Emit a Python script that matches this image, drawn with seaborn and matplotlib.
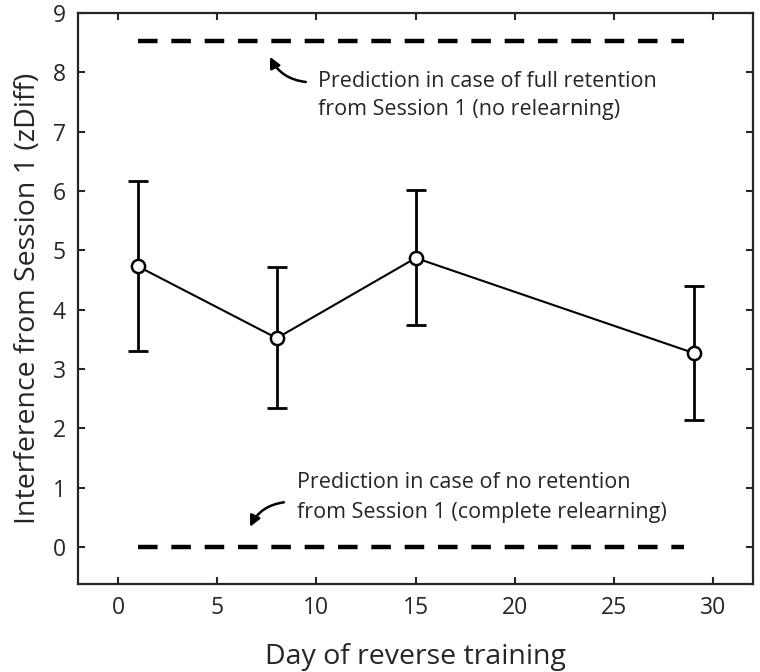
import matplotlib
matplotlib.use("Agg")
import matplotlib.pyplot as plt
import seaborn as sns
import pandas as pd

# data
days = [1, 8, 15, 29]
zdiff = [4.73, 3.52, 4.87, 3.27]
err_low = [3.31, 2.34, 3.74, 2.14]
err_high = [6.16, 4.72, 6.01, 4.40]

full_retention = 8.52
no_retention = 0.0
pred_days = [1, 28.5]

df = pd.DataFrame({"day": days, "zdiff": zdiff})

sns.set_style("ticks")
plt.rcParams["font.family"] = ["Open Sans", "DejaVu Sans"]

fig, ax = plt.subplots(figsize=(7.6, 6.72), dpi=100)

# prediction lines
for yv in [full_retention, no_retention]:
    sns.lineplot(x=pred_days, y=[yv, yv], ax=ax, color="black", lw=3.2,
                 dashes=False, linestyle=(0, (4.4, 3.1)), legend=False)

# error bars
yerr = [[z - lo for z, lo in zip(zdiff, err_low)],
        [hi - z for z, hi in zip(zdiff, err_high)]]
ax.errorbar(days, zdiff, yerr=yerr, fmt="none", ecolor="black",
            elinewidth=2, capsize=7.5, capthick=2, zorder=2)

sns.lineplot(data=df, x="day", y="zdiff", ax=ax, color="black", lw=1.5,
             marker="o", markersize=9.5, markerfacecolor="white",
             markeredgecolor="black", markeredgewidth=1.8, zorder=3)

# annotations
ax.text(10.1, 7.6, "Prediction in case of full retention\nfrom Session 1 (no relearning)",
        fontsize=15.5, ha="left", va="center", linespacing=1.45)
ax.annotate("", xy=(7.6, 8.3), xytext=(9.6, 7.83),
            arrowprops=dict(arrowstyle="-|>", color="black", lw=1.8,
                            connectionstyle="arc3,rad=-0.3", mutation_scale=16))

ax.text(9.0, 0.83, "Prediction in case of no retention\nfrom Session 1 (complete relearning)",
        fontsize=15.5, ha="left", va="center", linespacing=1.55)
ax.annotate("", xy=(6.6, 0.3), xytext=(8.5, 0.76),
            arrowprops=dict(arrowstyle="-|>", color="black", lw=1.8,
                            connectionstyle="arc3,rad=0.3", mutation_scale=16))

ax.set_xlim(-2, 32)
ax.set_ylim(-0.62, 9)
ax.set_xticks([0, 5, 10, 15, 20, 25, 30])
ax.set_yticks(range(0, 10))
ax.tick_params(direction="in", length=5, width=1.5, labelsize=16.5,
               top=True, right=True, pad=9)
for s in ax.spines.values():
    s.set_linewidth(1.6)
    s.set_visible(True)

ax.set_xlabel("Day of reverse training", fontsize=20.5, labelpad=16)
ax.set_ylabel("Interference from Session 1 (zDiff)", fontsize=20.5, labelpad=8)

fig.subplots_adjust(left=0.103, right=0.991, top=0.981, bottom=0.131)
fig.savefig("out.png", dpi=100)
